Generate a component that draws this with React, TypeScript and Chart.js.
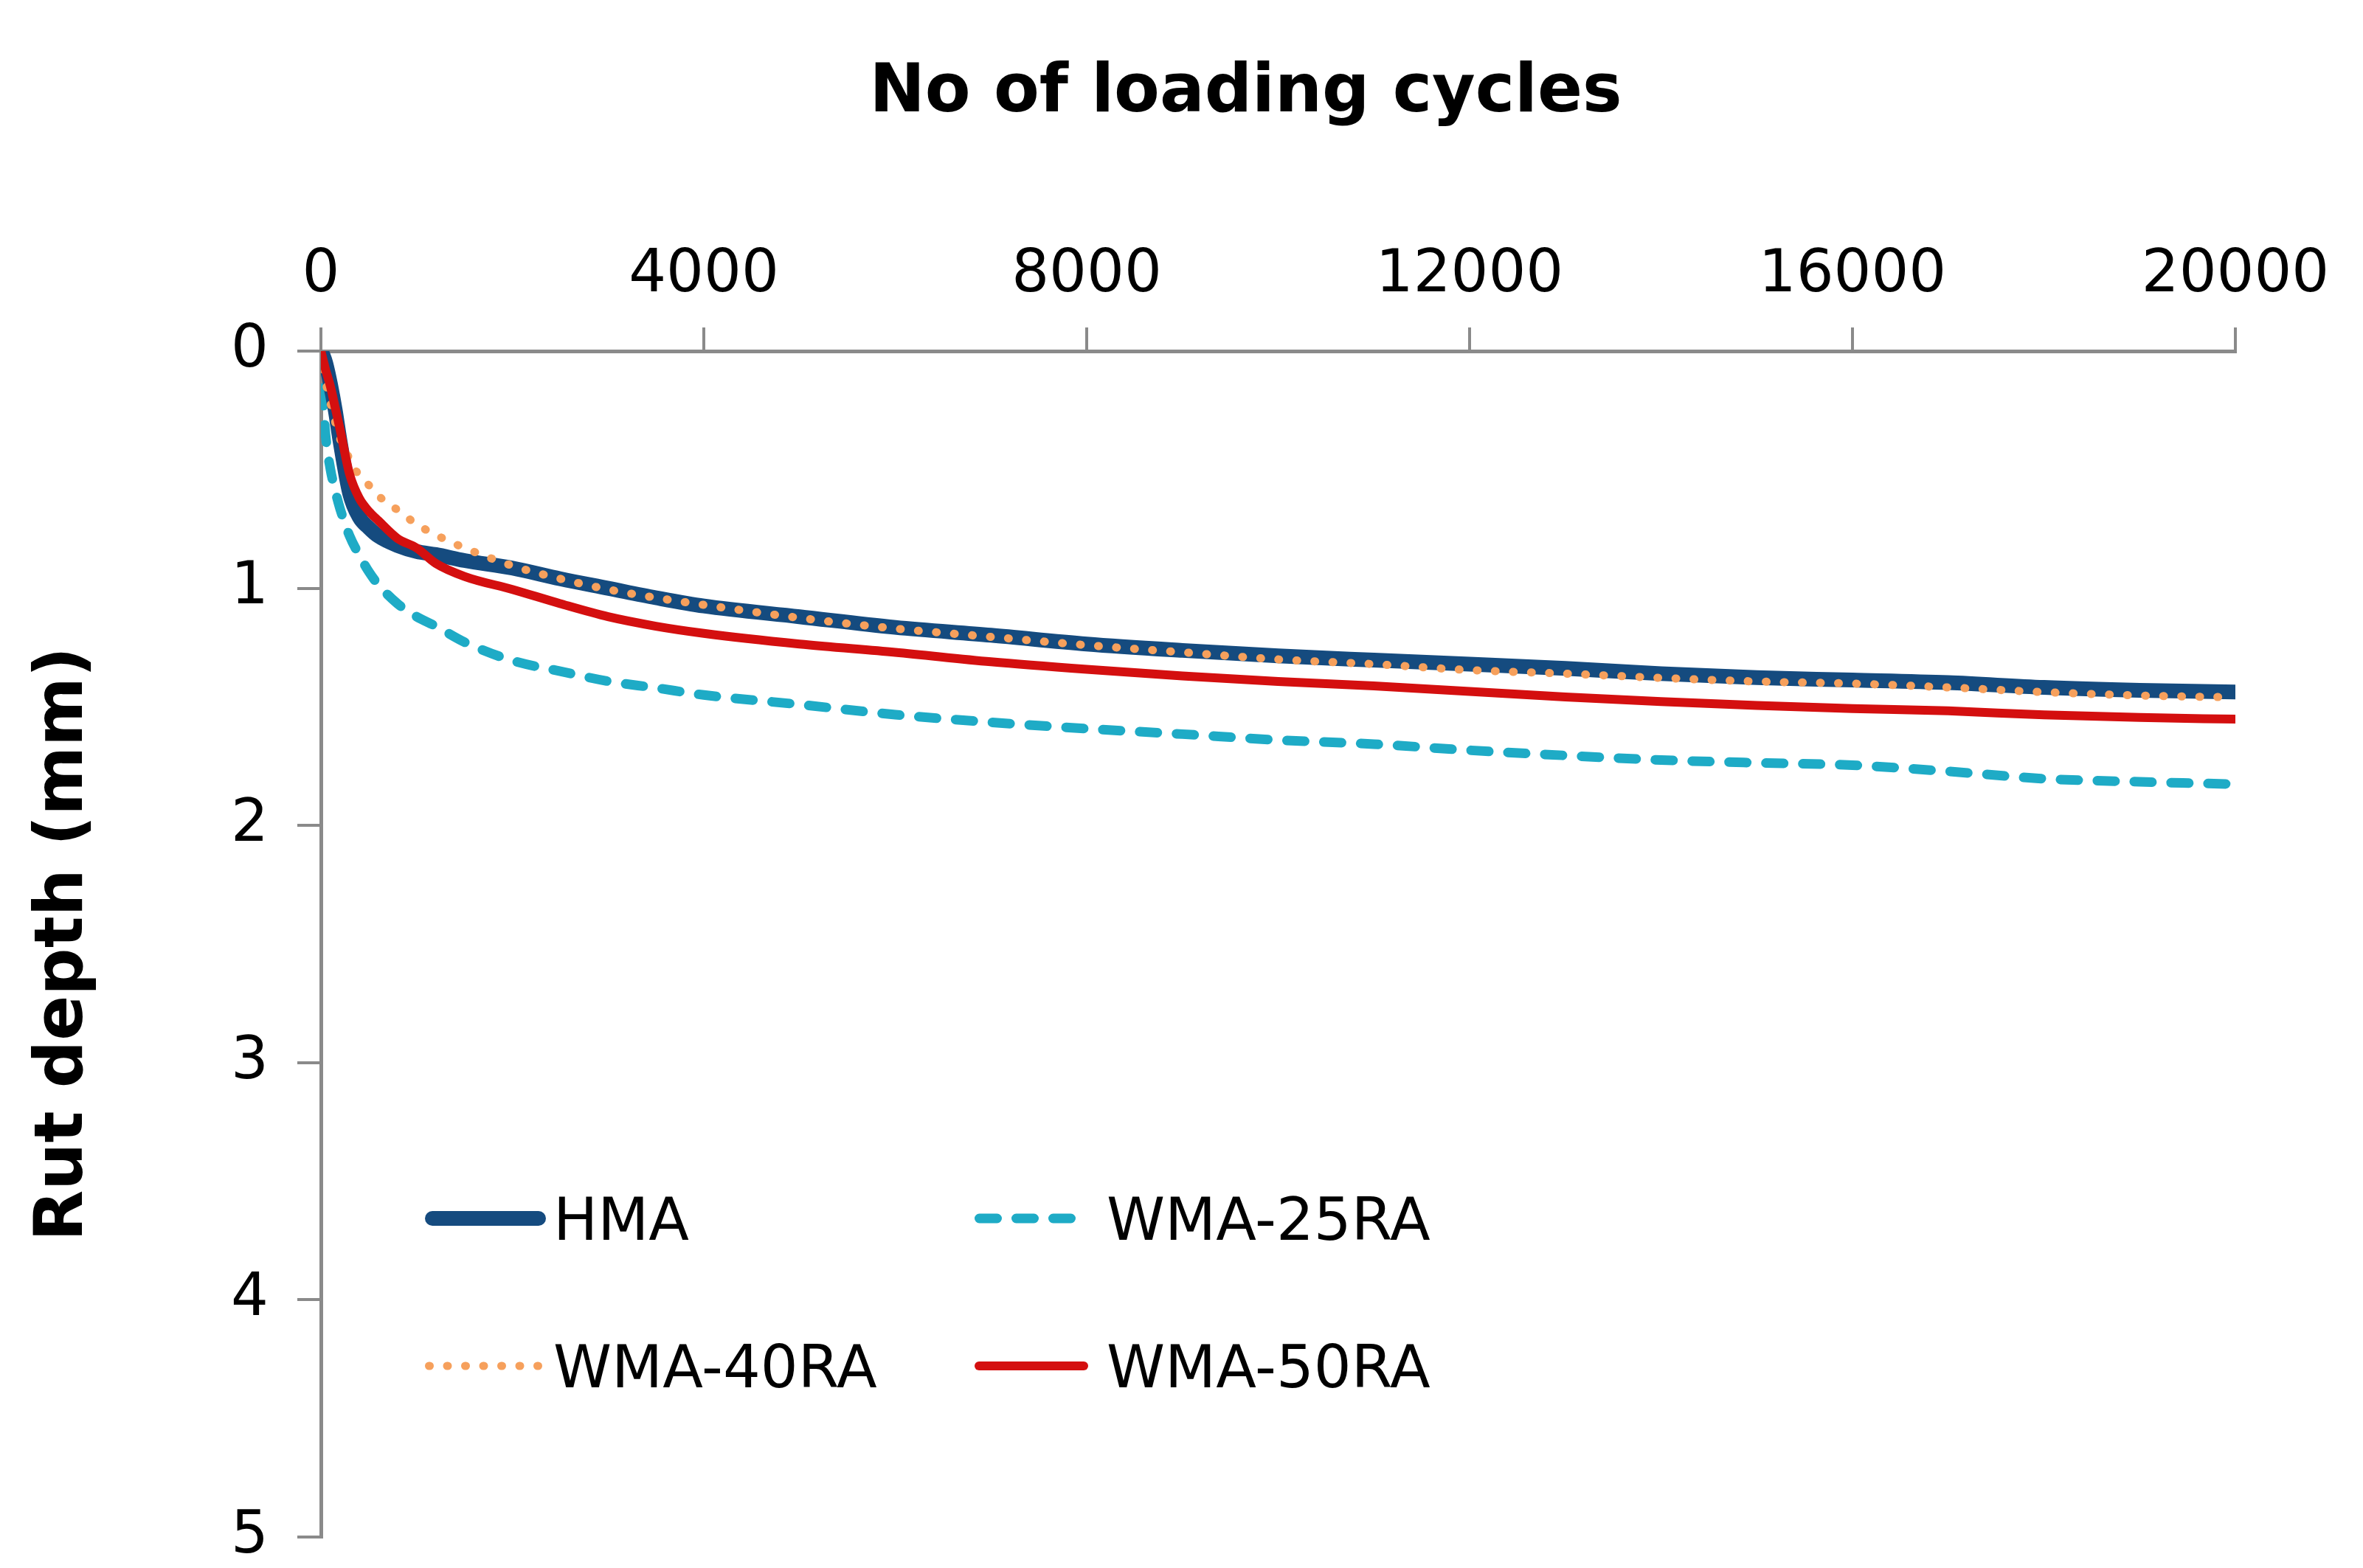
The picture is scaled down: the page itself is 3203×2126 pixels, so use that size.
import React, { useEffect, useRef } from 'react';
import { Chart, registerables } from 'chart.js';

Chart.register(...registerables);

// ---- data ----
const cycles = [0, 25, 50, 100, 150, 200, 300, 400, 500, 600, 800, 1000, 1200, 1500, 2000, 2500, 3000, 3500, 4000, 5000, 6000, 7000, 8000, 9000, 10000, 11000, 12000, 13000, 14000, 15000, 16000, 17000, 18000, 19000, 20000];

const hma = [0, 0.02, 0.05, 0.14, 0.25, 0.38, 0.6, 0.7, 0.745, 0.78, 0.82, 0.845, 0.858, 0.883, 0.915, 0.96, 1.0, 1.04, 1.075, 1.12, 1.165, 1.198, 1.235, 1.262, 1.285, 1.303, 1.32, 1.338, 1.36, 1.377, 1.387, 1.398, 1.418, 1.43, 1.437];
const wma25 = [0, 0.22, 0.36, 0.5, 0.59, 0.665, 0.78, 0.86, 0.93, 0.985, 1.065, 1.12, 1.16, 1.227, 1.305, 1.35, 1.392, 1.42, 1.45, 1.49, 1.533, 1.565, 1.592, 1.615, 1.64, 1.657, 1.683, 1.705, 1.724, 1.736, 1.746, 1.772, 1.803, 1.816, 1.826];
const wma40 = [0, 0.07, 0.13, 0.22, 0.3, 0.37, 0.455, 0.525, 0.565, 0.61, 0.67, 0.73, 0.775, 0.83, 0.905, 0.96, 1.005, 1.04, 1.07, 1.125, 1.17, 1.205, 1.24, 1.27, 1.3, 1.32, 1.345, 1.36, 1.378, 1.393, 1.402, 1.418, 1.438, 1.452, 1.46];
const wma50 = [0, 0.04, 0.08, 0.15, 0.24, 0.33, 0.52, 0.62, 0.675, 0.715, 0.79, 0.83, 0.895, 0.95, 1.005, 1.065, 1.12, 1.16, 1.19, 1.235, 1.27, 1.31, 1.342, 1.37, 1.393, 1.412, 1.435, 1.458, 1.478, 1.494, 1.507, 1.517, 1.534, 1.545, 1.552];

const seriesLabels = ['HMA', 'WMA-25RA', 'WMA-40RA', 'WMA-50RA'];
const xTicks = [0, 4000, 8000, 12000, 16000, 20000];
const yTicks = [0, 1, 2, 3, 4, 5];
const xTitle = 'No of loading cycles';
const yTitle = 'Rut depth (mm)';

const NAVY = '#154b7f';
const CYAN = '#1eabc6';
const ORANGE = '#f6a05c';
const RED = '#d40f0f';
const AXIS = '#8a8a8a';
const FONT = '"DejaVu Sans", Verdana, sans-serif';

const toPts = (ys: number[]) => cycles.map((x, i) => ({ x, y: ys[i] }));

const overlayPlugin = {
  id: 'overlay',
  afterDraw(chart: any) {
    const { ctx, chartArea } = chart;
    const { left, right, top } = chartArea;
    ctx.save();
    // top title
    ctx.font = `bold 90px ${FONT}`;
    ctx.fillStyle = '#000';
    ctx.textAlign = 'center';
    ctx.textBaseline = 'alphabetic';
    ctx.fillText(xTitle, (left + right) / 2 - 44, top - 325);

    // legend inside the plot (2 columns x 2 rows)
    const colSampleStart = [141, 886];
    const colSampleEnd = [305, 1040];
    const colText = [315, 1065];
    const rowY = [1176, 1376];
    chart.data.datasets.forEach((ds: any, i: number) => {
      const col = i % 2;
      const row = Math.floor(i / 2);
      const y = top + rowY[row];
      const w = ds.borderWidth;
      const x0 = left + colSampleStart[col] + w / 2;
      const x1 = left + colSampleEnd[col] - w / 2;
      ctx.beginPath();
      ctx.strokeStyle = ds.borderColor;
      ctx.lineWidth = w;
      ctx.lineCap = ds.borderCapStyle || 'butt';
      ctx.setLineDash(ds.borderDash || []);
      ctx.moveTo(x0, y);
      ctx.lineTo(x1, y);
      ctx.stroke();
      ctx.setLineDash([]);
      ctx.font = `80px ${FONT}`;
      ctx.fillStyle = '#000';
      ctx.textAlign = 'left';
      ctx.textBaseline = 'alphabetic';
      ctx.fillText(ds.label, left + colText[col], y + 29);
    });
    ctx.restore();
  },
};

export default function App() {
  const ref = useRef<HTMLCanvasElement | null>(null);

  useEffect(() => {
    if (!ref.current) return;
    const chart = new Chart(ref.current, {
      type: 'line',
      data: {
        datasets: [
          {
            label: seriesLabels[0],
            data: toPts(hma),
            borderColor: NAVY,
            backgroundColor: NAVY,
            borderWidth: 20,
            borderCapStyle: 'round',
            borderJoinStyle: 'round',
            order: 2,
          },
          {
            label: seriesLabels[1],
            data: toPts(wma25),
            borderColor: CYAN,
            backgroundColor: CYAN,
            borderWidth: 13,
            borderDash: [24, 26],
            borderCapStyle: 'round',
            borderJoinStyle: 'round',
            order: 3,
          },
          {
            label: seriesLabels[2],
            data: toPts(wma40),
            borderColor: ORANGE,
            backgroundColor: ORANGE,
            borderWidth: 11,
            borderDash: [1, 23.5],
            borderCapStyle: 'round',
            borderJoinStyle: 'round',
            order: 1,
          },
          {
            label: seriesLabels[3],
            data: toPts(wma50),
            borderColor: RED,
            backgroundColor: RED,
            borderWidth: 12,
            borderCapStyle: 'round',
            borderJoinStyle: 'round',
            order: 0,
          },
        ] as any,
      },
      options: {
        animation: false,
        responsive: true,
        maintainAspectRatio: false,
        devicePixelRatio: 1,
        layout: { padding: { left: 0, top: 0, right: 173, bottom: 42 } },
        elements: {
          point: { radius: 0, hoverRadius: 0 },
          line: { cubicInterpolationMode: 'monotone' },
        },
        plugins: {
          legend: { display: false },
          tooltip: { enabled: false },
        },
        scales: {
          x: {
            type: 'linear',
            position: 'top',
            min: xTicks[0],
            max: xTicks[xTicks.length - 1],
            afterBuildTicks: (s: any) => {
              s.ticks = xTicks.map((v) => ({ value: v }));
            },
            afterFit: (s: any) => {
              s.height = 476;
              s.paddingLeft = 0;
              s.paddingRight = 0;
            },
            ticks: {
              color: '#000',
              padding: 30,
              font: { family: FONT, size: 80, lineHeight: 1 },
              callback: (v: any) => String(v),
              maxRotation: 0,
              autoSkip: false,
            },
            grid: { drawOnChartArea: false, drawTicks: true, tickLength: 32, color: AXIS, lineWidth: 4 },
            border: { display: true, color: AXIS, width: 5 },
            title: { display: false, text: xTitle },
          },
          y: {
            type: 'linear',
            reverse: true,
            min: yTicks[0],
            max: yTicks[yTicks.length - 1],
            afterBuildTicks: (s: any) => {
              s.ticks = yTicks.map((v) => ({ value: v }));
            },
            afterFit: (s: any) => {
              s.width = 435;
              s.paddingTop = 0;
              s.paddingBottom = 0;
            },
            ticks: {
              color: '#000',
              padding: 39,
              font: { family: FONT, size: 80, lineHeight: 1 },
              callback: (v: any) => String(v),
              autoSkip: false,
            },
            grid: { drawOnChartArea: false, drawTicks: true, tickLength: 32, color: AXIS, lineWidth: 4 },
            border: { display: true, color: AXIS, width: 5 },
            title: {
              display: true,
              text: yTitle,
              color: '#000',
              font: { family: FONT, size: 90, weight: 'bold', lineHeight: 1.2 },
              padding: { top: 34, bottom: 0 },
            },
          },
        },
      } as any,
      plugins: [overlayPlugin],
    });
    return () => chart.destroy();
  }, []);

  return (
    <div style={{ position: 'fixed', left: 0, top: 0, width: 3203, height: 2126, background: '#fff' }}>
      <canvas ref={ref} style={{ display: 'block' }} />
    </div>
  );
}
